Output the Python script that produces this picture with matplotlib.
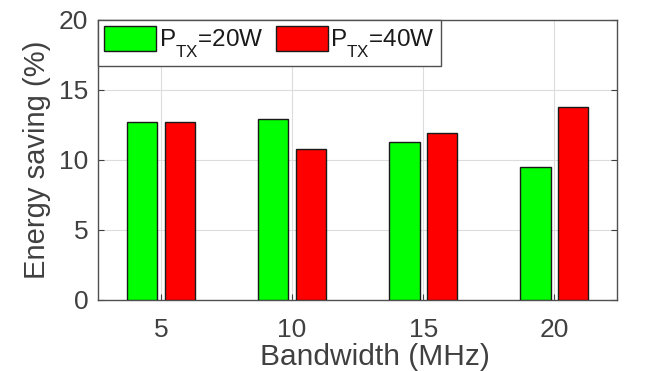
import matplotlib.pyplot as plt
import numpy as np

plt.rcParams['font.family'] = ['Liberation Sans', 'DejaVu Sans']
plt.rcParams['mathtext.fontset'] = 'custom'
plt.rcParams['mathtext.rm'] = 'Liberation Sans'
plt.rcParams['mathtext.default'] = 'rm'

# push the subscript lower, like the MATLAB original
try:
    import matplotlib._mathtext as _mt
    _mt.FontConstantsBase.sub1 = 0.9
except Exception:
    pass

bandwidth = ['5', '10', '15', '20']
saving_20w = [12.7, 12.95, 11.3, 9.5]
saving_40w = [12.7, 10.8, 11.9, 13.8]

fig = plt.figure(figsize=(6.55, 3.71), dpi=100)
ax = fig.add_axes([0.1496, 0.1914, 0.7928, 0.7548])

x = np.arange(1, len(bandwidth) + 1)
w = 0.23
ax.bar(x - 0.143, saving_20w, w, color='#00ff00', edgecolor='#1a1a1a', linewidth=1.0,
       label='P$_{TX}$=20W', zorder=3)
ax.bar(x + 0.143, saving_40w, w, color='#ff0000', edgecolor='#1a1a1a', linewidth=1.0,
       label='P$_{TX}$=40W', zorder=3)

ax.set_xlim(0.52, 4.48)
ax.set_ylim(0, 20)
ax.set_xticks(x)
ax.set_xticklabels(bandwidth)
ax.set_yticks([0, 5, 10, 15, 20])
ax.grid(True, color='#dcdcdc', linewidth=0.8, zorder=0)
ax.tick_params(direction='in', labelsize=19, colors='#404040', length=4,
               right=True, top=False)
ax.tick_params(axis='x', pad=13)
ax.tick_params(axis='y', pad=7)
for s in ax.spines.values():
    s.set_color('#505050')
    s.set_linewidth(1.0)

ax.set_xlabel('Bandwidth (MHz)', fontsize=21.5, color='#404040', labelpad=1)
ax.xaxis.set_label_coords(0.533, -0.155)
ax.xaxis.label.set_va('top')
ax.set_ylabel('Energy saving (%)', fontsize=21, color='#404040', labelpad=6)

leg = ax.legend(loc='upper left', bbox_to_anchor=(0, 1), borderaxespad=0, ncol=2,
                fontsize=17.5, fancybox=False, framealpha=1, edgecolor='#505050',
                handlelength=2.15, handleheight=1.2, handletextpad=0.1,
                columnspacing=0.5, borderpad=0.25)
leg.get_frame().set_linewidth(1.0)
for t in leg.get_texts():
    t.set_color('#1a1a1a')

fig.savefig('out.png', dpi=100)
